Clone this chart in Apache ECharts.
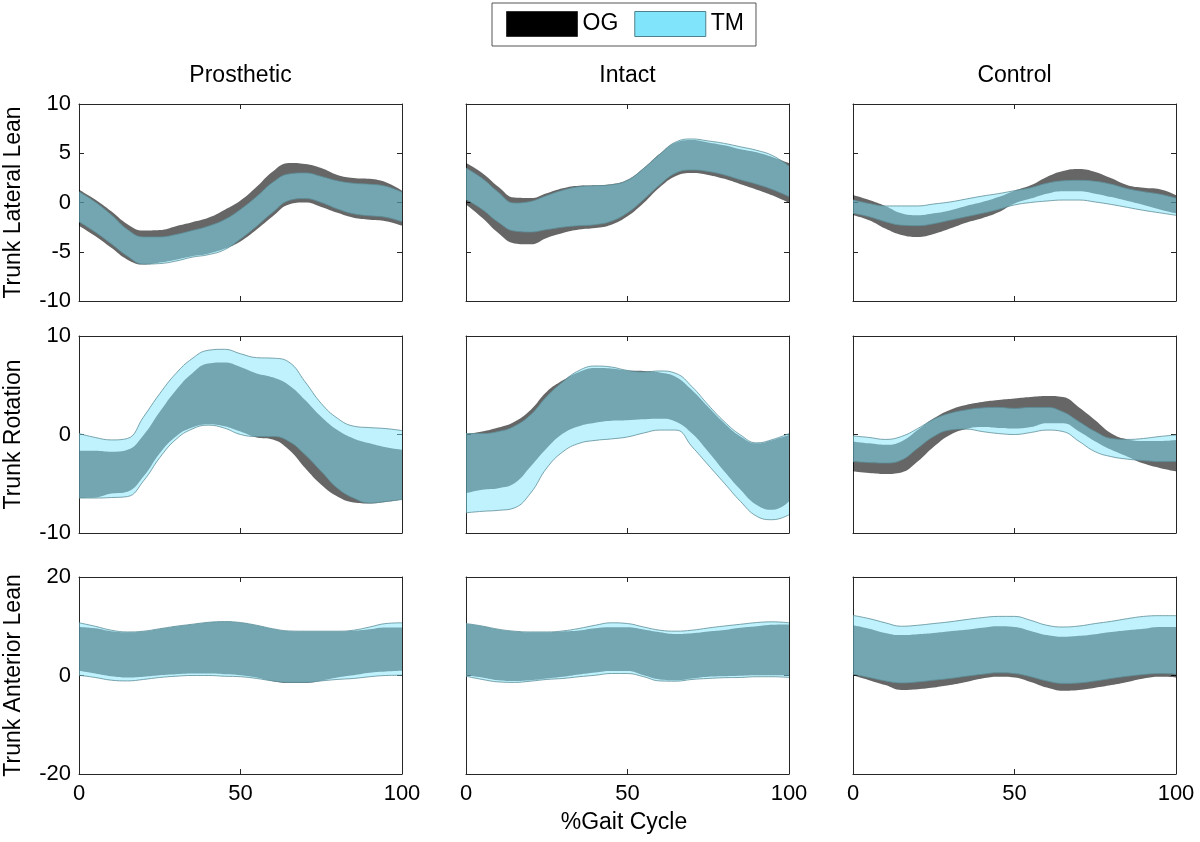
<!DOCTYPE html>
<html><head><meta charset="utf-8">
<script src="https://cdn.jsdelivr.net/npm/echarts@6/dist/echarts.min.js"></script>
<style>html,body{margin:0;padding:0;background:#fff}#c{width:1200px;height:842px}</style>
</head><body><div id="c"></div><script>
// % gait cycle sample points
const pct = [0,5,10,15,20,25,30,35,40,45,50,55,60,65,70,75,80,85,90,95,100];
const colTitles = ['Prosthetic','Intact','Control'];
const rowTitles = ['Trunk Lateral Lean','Trunk Rotation','Trunk Anterior Lean'];
const xTitle = '%Gait Cycle';
const xTickEvery = 10; // every 10th sample -> 0, 50, 100
const rowYMin = [-10, -10, -20];
const rowYMax = [10, 10, 20];
const rowYStep = [5, 10, 20];

// Trunk Lateral Lean
const P_LAT_OG_LO = [-2.35,-3.4,-4.6,-5.8,-6.3,-6.1,-5.8,-5.45,-5.2,-4.7,-3.95,-2.75,-1.4,-0.2,0.0,-0.45,-1.05,-1.55,-1.75,-1.9,-2.35];
const P_LAT_OG_HI = [1.3,0.3,-0.9,-2.2,-2.85,-2.8,-2.4,-2.0,-1.55,-0.75,0.2,1.6,3.15,4.0,3.9,3.5,2.8,2.5,2.4,2.05,1.2];
const P_LAT_TM_LO = [-1.95,-3.0,-4.2,-5.45,-6.25,-6.2,-5.95,-5.55,-5.3,-4.8,-3.7,-2.4,-1.0,0.2,0.4,0.0,-0.65,-1.15,-1.35,-1.5,-1.95];
const P_LAT_TM_HI = [1.1,0.05,-1.25,-2.75,-3.5,-3.5,-3.25,-2.85,-2.4,-1.75,-0.7,0.6,2.05,2.9,3.0,2.65,2.2,1.95,1.85,1.65,1.05];

const I_LAT_OG_LO = [-0.2,-1.55,-3.1,-4.15,-4.25,-3.6,-3.1,-2.75,-2.6,-2.25,-1.4,-0.05,1.55,2.7,3.0,2.8,2.4,1.85,1.3,0.7,-0.05];
const I_LAT_OG_HI = [4.0,3.0,1.6,0.5,0.45,0.95,1.45,1.7,1.75,1.85,2.3,3.5,4.95,6.1,6.35,6.1,5.8,5.4,5.1,4.6,4.0];
const I_LAT_TM_LO = [0.3,-0.7,-2.0,-2.9,-3.0,-2.75,-2.5,-2.35,-2.25,-1.9,-1.05,0.3,1.8,3.0,3.3,3.15,2.8,2.3,1.85,1.3,0.6];
const I_LAT_TM_HI = [3.5,2.45,1.05,-0.05,0.1,0.7,1.25,1.6,1.7,1.8,2.25,3.45,4.9,6.15,6.45,6.25,6.0,5.65,5.3,4.75,3.7];

const C_LAT_OG_LO = [-1.3,-1.8,-2.65,-3.3,-3.5,-3.2,-2.65,-2.05,-1.6,-1.0,-0.1,0.4,0.9,1.15,1.15,0.9,0.55,0.15,-0.25,-0.7,-1.1];
const C_LAT_OG_HI = [0.75,0.25,-0.35,-1.1,-1.3,-1.1,-0.8,-0.35,0.05,0.55,1.2,1.75,2.6,3.2,3.4,3.1,2.45,1.75,1.5,1.35,0.75];
const C_LAT_TM_LO = [-1.1,-1.45,-1.95,-2.3,-2.35,-2.15,-1.8,-1.45,-1.1,-0.7,-0.25,0.0,0.15,0.25,0.25,0.05,-0.2,-0.5,-0.8,-1.05,-1.3];
const C_LAT_TM_HI = [0.25,-0.1,-0.35,-0.35,-0.35,-0.15,0.05,0.35,0.65,0.9,1.2,1.5,1.95,2.2,2.25,2.15,1.85,1.4,1.1,0.85,0.45];

// Trunk Rotation
const P_ROT_OG_LO = [-6.45,-6.4,-6.0,-5.8,-4.25,-1.9,-0.2,0.7,1.05,0.85,0.3,-0.3,-0.5,-1.55,-3.4,-5.1,-6.3,-6.9,-7.0,-6.85,-6.6];
const P_ROT_OG_HI = [-1.65,-1.65,-1.75,-1.55,-0.05,2.3,4.5,6.2,7.2,7.3,6.85,6.2,5.8,5.0,3.5,1.8,0.45,-0.4,-0.9,-1.3,-1.55];
const P_ROT_TM_LO = [-6.45,-6.45,-6.4,-6.3,-4.7,-2.35,-0.5,0.55,0.95,0.65,0.0,-0.2,-0.2,-0.7,-2.05,-3.75,-5.45,-6.45,-6.95,-6.8,-6.6];
const P_ROT_TM_HI = [0.1,-0.3,-0.55,-0.4,1.8,4.15,6.2,7.7,8.55,8.65,8.2,7.8,7.75,7.35,5.35,3.15,1.65,0.85,0.7,0.6,0.4];

const I_ROT_OG_LO = [-5.95,-5.6,-5.45,-4.95,-3.25,-1.4,0.1,0.85,1.2,1.4,1.45,1.55,1.6,1.3,0.1,-1.75,-3.75,-5.6,-7.15,-7.65,-6.8];
const I_ROT_OG_HI = [0.05,0.3,0.7,1.3,2.5,4.35,5.5,6.35,6.75,6.7,6.5,6.45,6.3,5.85,4.5,2.8,1.15,-0.2,-0.9,-0.55,-0.05];
const I_ROT_TM_LO = [-7.95,-7.8,-7.7,-7.45,-5.95,-3.4,-1.75,-0.9,-0.6,-0.45,-0.25,0.15,0.45,0.45,-1.25,-3.1,-4.95,-6.8,-8.3,-8.65,-8.15];
const I_ROT_TM_HI = [0.1,0.1,0.3,0.85,2.0,3.85,5.35,6.5,6.95,6.85,6.5,6.35,6.45,6.2,4.85,3.0,1.3,-0.05,-0.85,-0.5,0.1];

const C_ROT_OG_LO = [-3.75,-3.9,-4.0,-3.85,-2.75,-1.25,-0.05,0.55,0.75,0.65,0.6,0.75,1.15,1.15,0.3,-0.7,-1.55,-2.25,-2.95,-3.4,-3.75];
const C_ROT_OG_HI = [-0.7,-0.9,-1.05,-0.7,0.45,1.65,2.5,3.0,3.3,3.5,3.65,3.8,3.9,3.8,2.75,1.45,0.1,-0.5,-0.65,-0.65,-0.55];
const C_ROT_TM_LO = [-2.75,-2.85,-2.9,-2.6,-1.4,-0.2,0.45,0.55,0.3,0.1,0.0,0.2,0.45,0.3,-0.7,-1.75,-2.25,-2.5,-2.65,-2.75,-2.75];
const C_ROT_TM_HI = [-0.15,-0.3,-0.5,-0.2,0.6,1.55,2.15,2.5,2.7,2.75,2.65,2.75,2.75,2.3,1.3,0.3,-0.4,-0.5,-0.4,-0.2,-0.05];

// Trunk Anterior Lean
const P_ANT_OG_LO = [0.95,0.4,-0.15,-0.4,-0.25,0.05,0.25,0.4,0.4,0.25,0.05,-0.4,-1.15,-1.5,-1.5,-1.05,-0.4,0.05,0.55,0.8,0.95];
const P_ANT_OG_HI = [9.85,9.6,9.0,8.8,8.95,9.45,9.95,10.35,10.75,10.9,10.7,10.15,9.45,9.0,8.95,8.95,8.95,9.1,9.4,9.75,9.75];
const P_ANT_TM_LO = [0.05,-0.4,-0.95,-1.1,-0.8,-0.4,-0.15,0.0,0.0,-0.15,-0.25,-0.6,-1.1,-1.4,-1.4,-1.1,-0.8,-0.6,-0.25,0.0,0.05];
const P_ANT_TM_HI = [10.7,10.0,9.2,8.85,9.0,9.5,10.0,10.4,10.8,10.95,10.75,10.2,9.5,9.05,9.0,9.0,9.0,9.2,9.85,10.55,10.7];

const I_ANT_OG_LO = [0.05,-0.4,-0.95,-1.1,-0.95,-0.6,-0.25,0.2,0.6,0.9,0.9,0.05,-0.8,-0.95,-0.6,-0.25,-0.15,-0.05,0.05,0.05,-0.05];
const I_ANT_OG_HI = [10.5,10.0,9.35,8.95,8.8,8.8,8.95,9.15,9.6,9.8,9.8,9.35,8.8,8.45,8.6,8.95,9.25,9.7,10.0,10.3,10.35];
const I_ANT_TM_LO = [-0.15,-0.8,-1.3,-1.4,-1.15,-0.8,-0.6,-0.25,0.05,0.4,0.4,-0.25,-1.1,-1.15,-0.8,-0.6,-0.45,-0.4,-0.25,-0.25,-0.4];
const I_ANT_TM_HI = [10.55,10.05,9.4,9.0,8.85,8.85,9.05,9.55,10.2,10.7,10.55,9.85,9.2,9.0,9.2,9.65,10.05,10.4,10.75,10.9,10.7];

const C_ANT_OG_LO = [0.05,-0.95,-1.95,-2.95,-2.8,-2.45,-1.95,-1.3,-0.6,-0.25,-0.4,-1.3,-2.45,-3.1,-2.95,-2.5,-1.95,-1.3,-0.6,-0.25,-0.4];
const C_ANT_OG_HI = [10.2,9.5,8.65,8.2,8.4,8.65,9.0,9.3,9.7,10.0,9.85,9.05,8.2,7.85,8.05,8.4,8.85,9.2,9.5,9.85,9.85];
const C_ANT_TM_LO = [0.25,-0.4,-1.1,-1.5,-1.3,-0.95,-0.6,-0.15,0.25,0.55,0.4,-0.25,-1.1,-1.6,-1.5,-1.1,-0.6,-0.15,0.2,0.4,0.25];
const C_ANT_TM_HI = [12.2,11.55,10.7,10.0,10.2,10.55,10.9,11.35,11.75,12.0,12.0,11.2,10.2,9.85,10.05,10.55,11.0,11.55,12.0,12.15,12.15];

const panels = [
  [P_LAT_OG_LO,P_LAT_OG_HI,P_LAT_TM_LO,P_LAT_TM_HI],
  [I_LAT_OG_LO,I_LAT_OG_HI,I_LAT_TM_LO,I_LAT_TM_HI],
  [C_LAT_OG_LO,C_LAT_OG_HI,C_LAT_TM_LO,C_LAT_TM_HI],
  [P_ROT_OG_LO,P_ROT_OG_HI,P_ROT_TM_LO,P_ROT_TM_HI],
  [I_ROT_OG_LO,I_ROT_OG_HI,I_ROT_TM_LO,I_ROT_TM_HI],
  [C_ROT_OG_LO,C_ROT_OG_HI,C_ROT_TM_LO,C_ROT_TM_HI],
  [P_ANT_OG_LO,P_ANT_OG_HI,P_ANT_TM_LO,P_ANT_TM_HI],
  [I_ANT_OG_LO,I_ANT_OG_HI,I_ANT_TM_LO,I_ANT_TM_HI],
  [C_ANT_OG_LO,C_ANT_OG_HI,C_ANT_TM_LO,C_ANT_TM_HI]
];

const FONT = 'Liberation Sans, Arial, Helvetica, sans-serif';
const colLeft = [79, 466, 853], rowTop = [104, 336, 577], W = 323, H = 197;
const AX = '#262626';
const OG_COLOR = '#000000', OG_OP = 0.6;
const TM_COLOR = '#80e5fb', TM_OP = 0.5, TM_EDGE = '#5d8e98';

const grid = [], xAxis = [], yAxis = [], series = [];
const cats = pct.map(String);
const tickInt = (idx) => idx % xTickEvery === 0;
panels.forEach((pd, i) => {
  const row = Math.floor(i / 3), col = i % 3;
  grid.push({left: colLeft[col], top: rowTop[row], width: W, height: H});
  const line = {show: true, onZero: false, lineStyle: {color: AX, width: 1}};
  const tick = {show: true, inside: true, length: 5, lineStyle: {color: AX, width: 1}};
  const xbase = {type: 'category', gridIndex: i, data: cats, boundaryGap: false, splitLine: {show: false},
    axisLine: line, axisTick: Object.assign({interval: tickInt}, tick)};
  xAxis.push(Object.assign({}, xbase, {position: 'bottom',
    axisLabel: {show: row === 2, interval: tickInt, fontSize: 22, color: '#000', fontFamily: FONT, margin: 9}}));
  xAxis.push(Object.assign({}, xbase, {position: 'top', axisLabel: {show: false}}));
  const ybase = {type: 'value', gridIndex: i, splitLine: {show: false}, axisLine: line, axisTick: tick,
    min: rowYMin[row], max: rowYMax[row], interval: rowYStep[row]};
  yAxis.push(Object.assign({}, ybase, {position: 'left',
    axisLabel: {show: col === 0, fontSize: 22, color: '#000', fontFamily: FONT, margin: 8}}));
  yAxis.push(Object.assign({}, ybase, {position: 'right', axisLabel: {show: false}}));

  const band = (lo, hi, name, color, op, edge) => {
    const ls = edge ? {color: TM_EDGE, width: 0.8} : {width: 0, opacity: 0};
    const common = {type: 'line', xAxisIndex: 2 * i, yAxisIndex: 2 * i, stack: name + i, stackStrategy: 'all',
      smooth: 0.45, symbol: 'none', silent: true, animation: false};
    series.push(Object.assign({}, common, {name: name + '_lower', data: lo.slice(), lineStyle: ls}));
    series.push(Object.assign({}, common, {name: name, data: hi.map((h, k) => h - lo[k]), lineStyle: ls,
      itemStyle: {color: color}, areaStyle: {color: color, opacity: op}}));
  };
  band(pd[0], pd[1], 'OG', OG_COLOR, OG_OP, false);
  band(pd[2], pd[3], 'TM', TM_COLOR, TM_OP, true);
});

const txt = (x, y, text, rot) => ({type: 'text', x: x, y: y, rotation: rot || 0, silent: true,
  style: {text: text, fontSize: 23, fontFamily: FONT, fill: '#000', textAlign: 'center', textVerticalAlign: 'middle'}});
const graphic = [];
colTitles.forEach((t, c) => graphic.push(txt(colLeft[c] + W / 2, 76, t)));
rowTitles.forEach((t, r) => graphic.push(txt(14, rowTop[r] + H / 2, t, Math.PI / 2)));
graphic.push(txt(624, 823, xTitle));

const chart = echarts.init(document.getElementById('c'), null, {renderer: 'canvas'});
chart.setOption({
  animation: false,
  backgroundColor: '#fff',
  grid, xAxis, yAxis, series, graphic,
  legend: {
    left: 492, top: 3, orient: 'horizontal',
    padding: [8, 12, 9, 14], itemGap: 16, itemWidth: 71, itemHeight: 25,
    borderColor: '#555', borderWidth: 1, backgroundColor: '#fff',
    selectedMode: false,
    textStyle: {fontSize: 23, color: '#000', fontFamily: FONT},
    data: [
      {name: 'OG', icon: 'rect', itemStyle: {color: '#000', borderColor: '#333', borderWidth: 1, opacity: 1}},
      {name: 'TM', icon: 'rect', itemStyle: {color: TM_COLOR, borderColor: '#4f7f8a', borderWidth: 1, opacity: 1}}
    ]
  }
});
</script></body></html>
